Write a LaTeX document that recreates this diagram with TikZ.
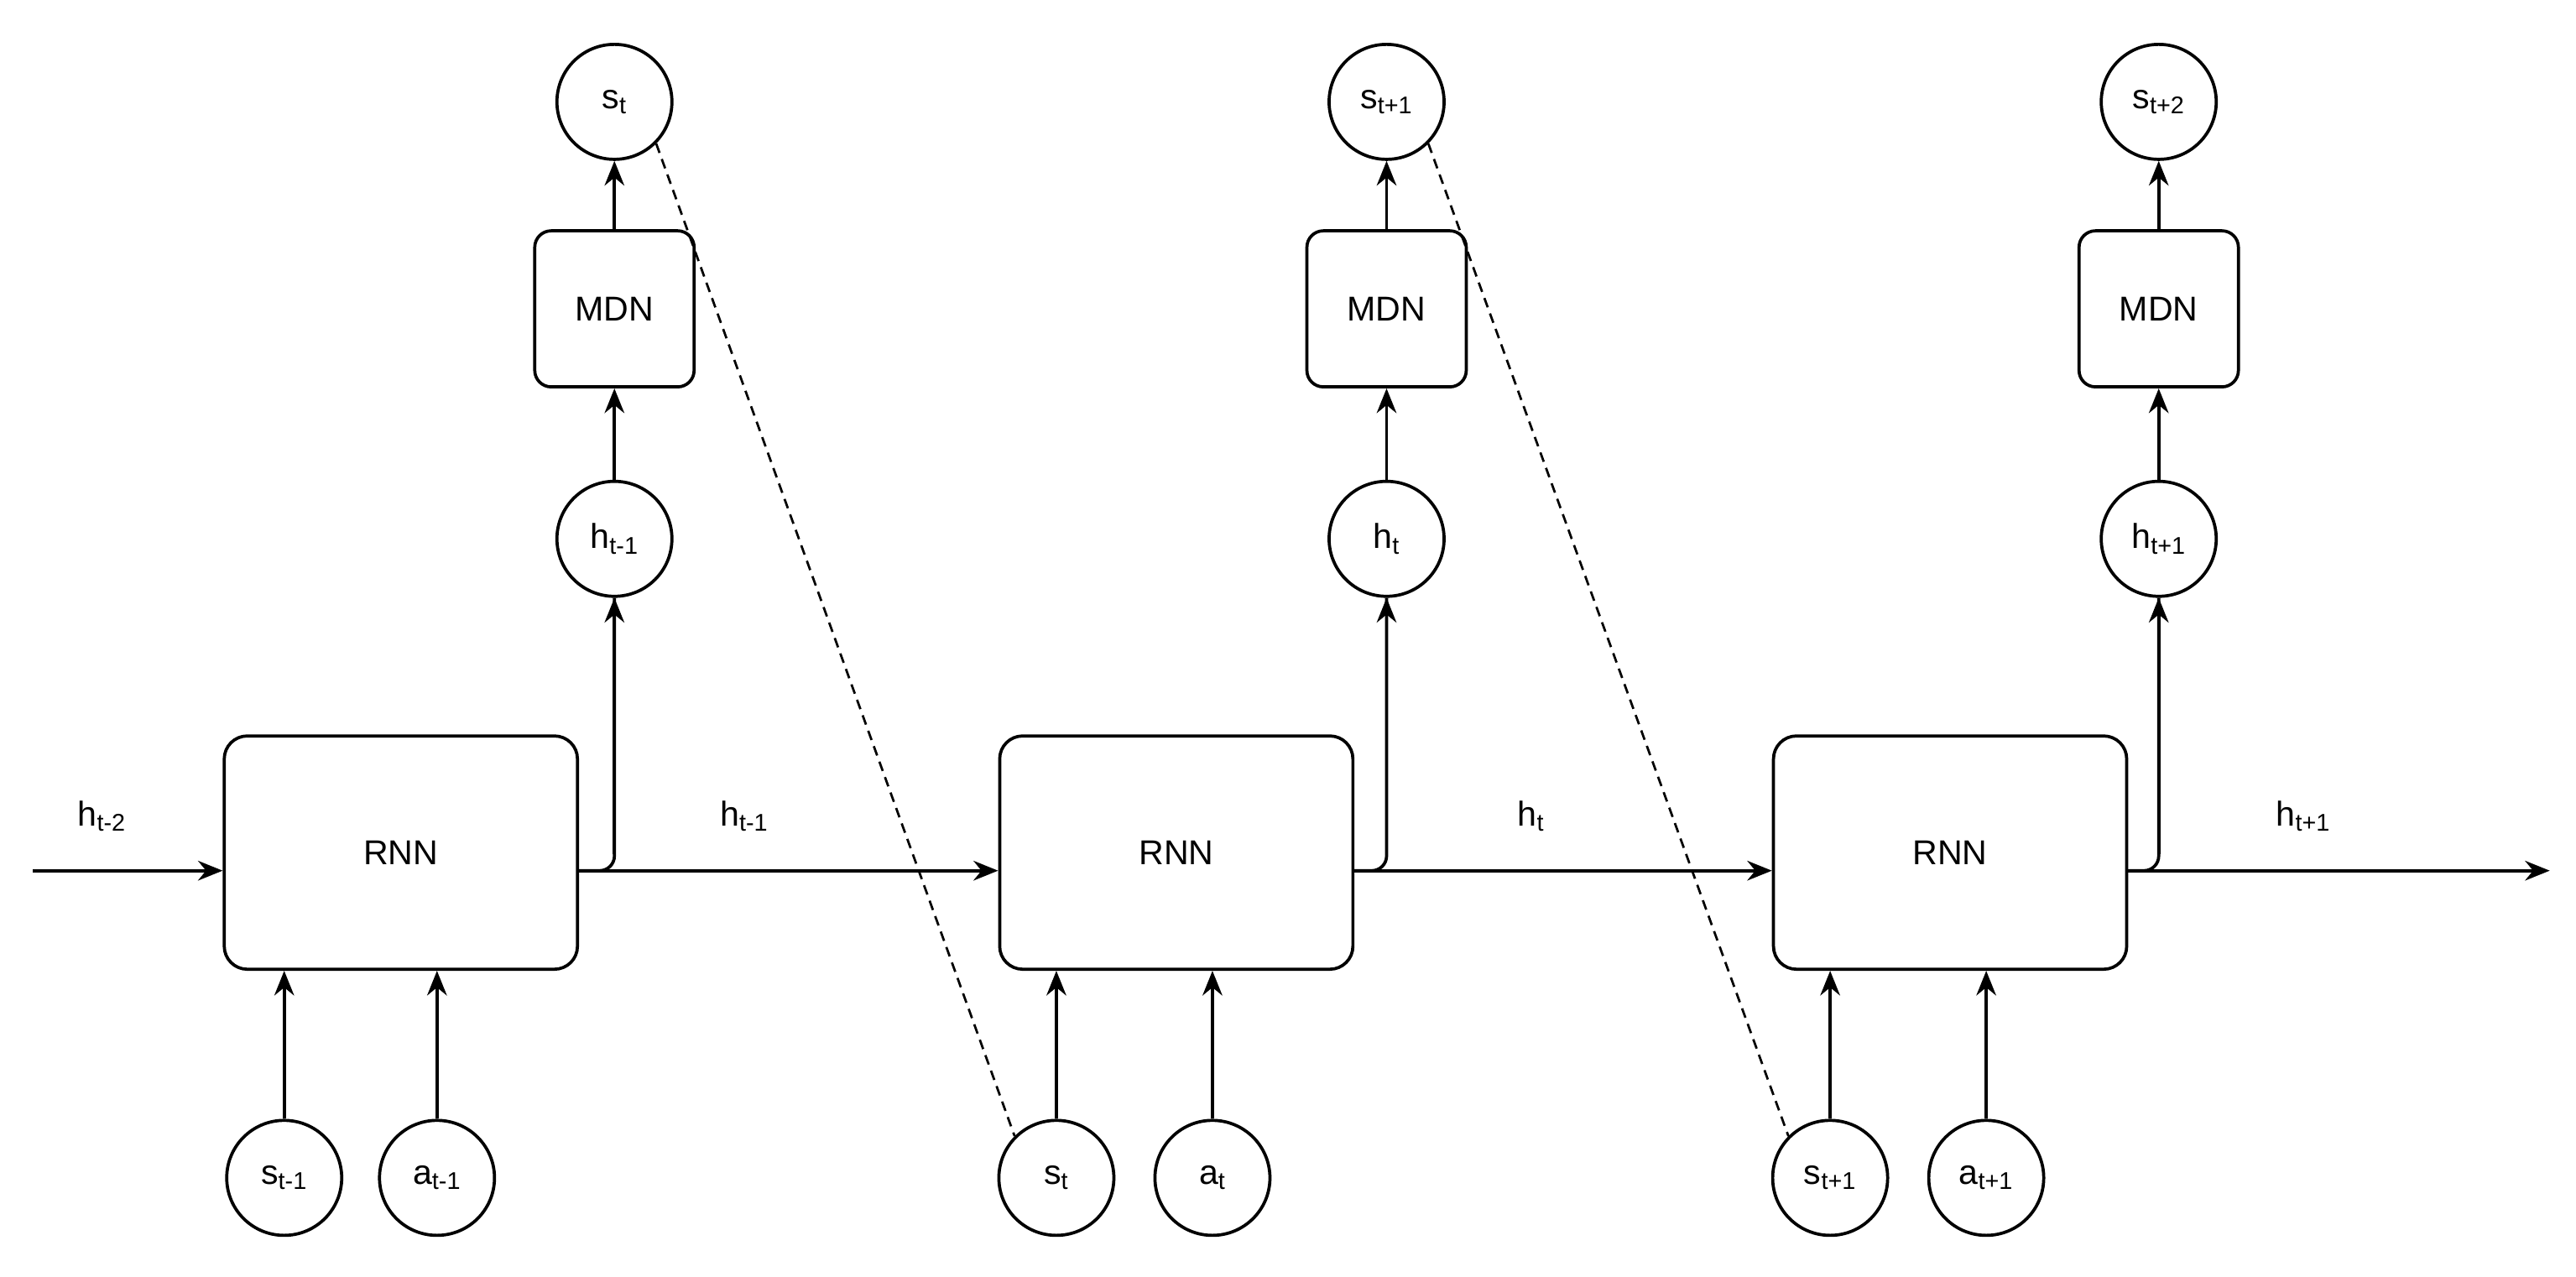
\documentclass[tikz,border=0pt]{standalone}
\usepackage{fontspec}
\setmainfont{Liberation Sans}
\usetikzlibrary{arrows.meta}
\begin{document}
\begin{tikzpicture}[x=1pt,y=-1pt,
  every node/.style={font=\fontsize{21}{24}\selectfont},
  ln/.style={line width=1.9pt},
  arr/.style={ln,-{Stealth[length=15pt,width=12pt]}},
  rnn/.style={draw,ln,rounded corners=14pt,minimum width=215pt,minimum height=142pt},
  mdn/.style={draw,ln,rounded corners=10pt,minimum width=97pt,minimum height=95pt},
  cir/.style={draw,ln,circle,minimum size=70pt,inner sep=0pt}]
\useasboundingbox (0,0) rectangle (1568,777);
\foreach \i/\x/\hx in {1/244/374,2/716/844,3/1187/1314}{
  \node[rnn] (r\i) at (\x,519) {RNN};
  \node[cir] (h\i) at (\hx,328) {};
  \node[mdn] (m\i) at (\hx,188) {MDN};
  \node[cir] (s\i) at (\hx,62) {};
  \coordinate (j\i) at (\hx,530);
  \draw[arr] (m\i) -- (s\i);
  \draw[arr] (h\i) -- (m\i);
}
\node at (h1) {h\textsubscript{t-1}};
\node at (h2) {h\textsubscript{t}};
\node at (h3) {h\textsubscript{t+1}};
\node at (s1) {s\textsubscript{t}};
\node at (s2) {s\textsubscript{t+1}};
\node at (s3) {s\textsubscript{t+2}};
\node[cir] (bs1) at (173,717) {s\textsubscript{t-1}};
\node[cir] (ba1) at (266,717) {a\textsubscript{t-1}};
\node[cir] (bs2) at (643,717) {s\textsubscript{t}};
\node[cir] (ba2) at (738,717) {a\textsubscript{t}};
\node[cir] (bs3) at (1114,717) {s\textsubscript{t+1}};
\node[cir] (ba3) at (1209,717) {a\textsubscript{t+1}};
\foreach \i in {1,2,3}{
  \draw[arr] (bs\i) -- (bs\i |- r\i.south);
  \draw[arr] (ba\i) -- (ba\i |- r\i.south);
  \draw[ln,rounded corners=9pt] (r\i.east |- j\i) -- (j\i) -- (h\i.south);
  \draw[arr] (h\i |- j\i) ++(0,-10) -- (h\i);
}
\coordinate (in) at (20,530);
\coordinate (out) at (1552,530);
\draw[arr] (in) -- (in -| r1.west);
\draw[arr] (r1.east |- j1) -- (r2.west |- j1);
\draw[arr] (r2.east |- j2) -- (r3.west |- j2);
\draw[arr] (r3.east |- j3) -- (out);
\node at (62,497) {h\textsubscript{t-2}};
\node at (453,497) {h\textsubscript{t-1}};
\node at (932,497) {h\textsubscript{t}};
\node at (1402,497) {h\textsubscript{t+1}};
\draw[line width=1.4pt,dash pattern=on 6pt off 4pt] (s1.-45) -- (bs2.135);
\draw[line width=1.4pt,dash pattern=on 6pt off 4pt] (s2.-45) -- (bs3.135);
\end{tikzpicture}
\end{document}
